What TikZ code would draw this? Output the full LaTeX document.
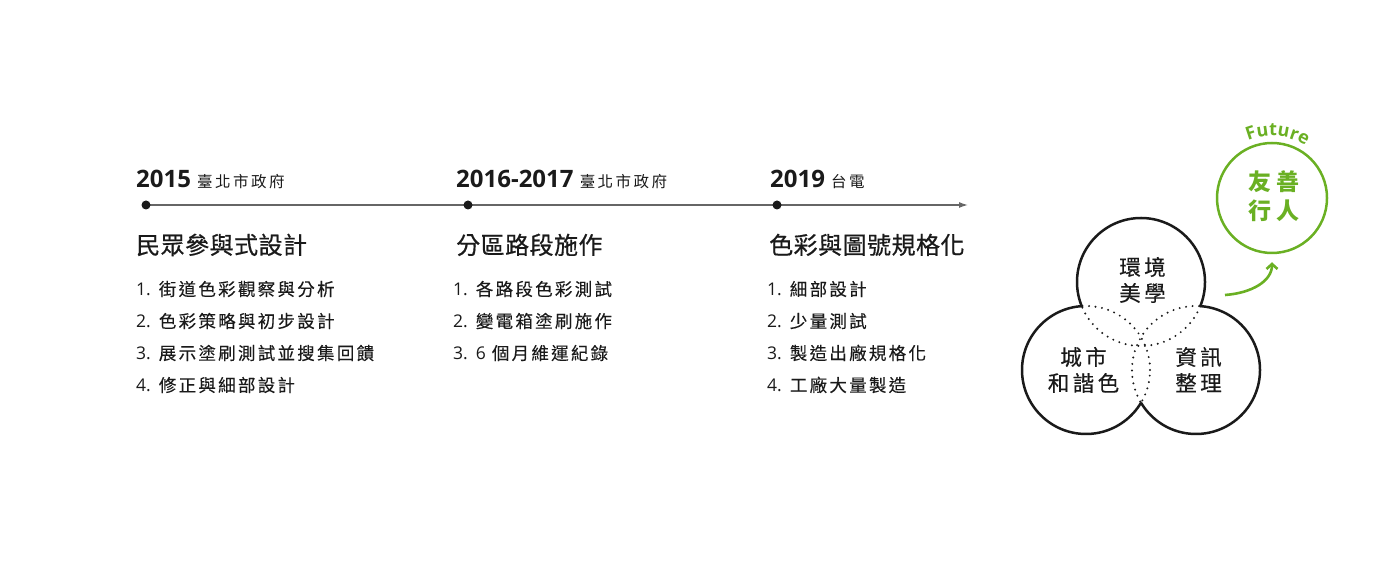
\documentclass[tikz,border=0pt]{standalone}
\usepackage{fontspec}
\setmainfont{Noto Sans CJK TC}
\newfontfamily\lat{Open Sans}
\newfontfamily\cjkitem[LetterSpace=13,FakeBold=0.2]{Noto Sans CJK TC}
\newfontfamily\cjkorg[LetterSpace=16]{Noto Sans CJK TC}
\newfontfamily\cjkhead[LetterSpace=2,FakeBold=0.6]{Noto Sans CJK TC}
\newfontfamily\cjkcirc[LetterSpace=16,FakeBold=0.4]{Noto Sans CJK TC}
\newfontfamily\cjkgreen[LetterSpace=22]{Noto Sans CJK TC}
\usetikzlibrary{arrows.meta,decorations.text}
\definecolor{ink}{HTML}{1A1A1A}
\definecolor{fgreen}{HTML}{6AB023}
\definecolor{tlinec}{HTML}{666666}
\newcommand{\itemnum}[1]{{\lat #1}\hspace{8pt}}
\begin{document}
\begin{tikzpicture}[x=1pt,y=1pt,
  tlinestyle/.style={draw=tlinec,line width=1.3pt,-{Latex[length=9pt,width=6pt]}},
  tdot/.style={circle,fill=ink,inner sep=0pt,minimum size=9pt},
  yearlbl/.style={anchor=base west,inner sep=0pt,text=ink,font=\lat\bfseries\fontsize{24}{24}\selectfont},
  headlbl/.style={anchor=base west,inner sep=0pt,text=ink,font=\cjkhead\fontsize{24}{24}\selectfont},
  itemlbl/.style={anchor=base west,inner sep=0pt,text=ink,font=\cjkitem\fontsize{17.5}{17.5}\selectfont},
  vring/.style={draw=ink,line width=2.5pt},
  vdots/.style={draw=ink,line width=2.2pt,line cap=round,dash pattern=on 0pt off 6.5pt},
  circlbl/.style={anchor=base,inner sep=0pt,text=ink,font=\cjkcirc\fontsize{21.5}{21.5}\selectfont},
  greenlbl/.style={anchor=base,inner sep=0pt,text=fgreen,font=\cjkgreen\bfseries\fontsize{23}{23}\selectfont},
  gring/.style={circle,draw=fgreen,line width=2.5pt,minimum size=110pt,inner sep=0pt},
  garrow/.style={draw=fgreen,line width=2.6pt,-{Straight Barb[length=5pt,width=11pt]},shorten >=8pt}
]
\useasboundingbox (0,0) rectangle (1400,567);

% ---------- timeline ----------
\coordinate (t0) at (146,362);
\coordinate (t1) at (468,362);
\coordinate (t2) at (777,362);
\coordinate (tend) at (968,362);
\draw[tlinestyle] (t0) -- (tend);
\node[tdot] (d1) at (t0) {};
\node[tdot] (d2) at (t1) {};
\node[tdot] (d3) at (t2) {};

\node[yearlbl] (y1) at (136,379.5) {2015 {\cjkorg\mdseries\fontsize{15.5}{15.5}\selectfont 臺北市政府}};
\node[yearlbl] (y2) at (456,379.5) {2016-2017 {\cjkorg\mdseries\fontsize{15.5}{15.5}\selectfont 臺北市政府}};
\node[yearlbl] (y3) at (770,379.5) {2019 {\cjkorg\mdseries\fontsize{15.5}{15.5}\selectfont 台電}};

\node[headlbl] (h1) at (136,313) {民眾參與式設計};
\node[headlbl] (h2) at (456,313) {分區路段施作};
\node[headlbl] (h3) at (769,313) {色彩與圖號規格化};

\node[itemlbl] (a1) at (136,271.3) {\itemnum{1.}街道色彩觀察與分析};
\node[itemlbl] (a2) at (136,239.3) {\itemnum{2.}色彩策略與初步設計};
\node[itemlbl] (a3) at (136,207.3) {\itemnum{3.}展示塗刷測試並搜集回饋};
\node[itemlbl] (a4) at (136,175.3) {\itemnum{4.}修正與細部設計};

\node[itemlbl] (b1) at (453,271.3) {\itemnum{1.}各路段色彩測試};
\node[itemlbl] (b2) at (453,239.3) {\itemnum{2.}變電箱塗刷施作};
\node[itemlbl] (b3) at (453,207.3) {\itemnum{3.}{\lat 6}\hspace{6pt}個月維運紀錄};

\node[itemlbl] (c1) at (767,271.3) {\itemnum{1.}細部設計};
\node[itemlbl] (c2) at (767,239.3) {\itemnum{2.}少量測試};
\node[itemlbl] (c3) at (767,207.3) {\itemnum{3.}製造出廠規格化};
\node[itemlbl] (c4) at (767,175.3) {\itemnum{4.}工廠大量製造};

% ---------- venn ----------
\coordinate (T) at (1141,285);
\coordinate (L) at (1086,197);
\coordinate (R) at (1196,197);
\begin{scope}[even odd rule]
  \clip (0,0) rectangle (1400,567) (L) circle[radius=64];
  \clip (0,0) rectangle (1400,567) (R) circle[radius=64];
  \draw[vring] (T) circle[radius=64];
\end{scope}
\begin{scope}[even odd rule]
  \clip (0,0) rectangle (1400,567) (T) circle[radius=64];
  \clip (0,0) rectangle (1400,567) (R) circle[radius=64];
  \draw[vring] (L) circle[radius=64];
\end{scope}
\begin{scope}[even odd rule]
  \clip (0,0) rectangle (1400,567) (T) circle[radius=64];
  \clip (0,0) rectangle (1400,567) (L) circle[radius=64];
  \draw[vring] (R) circle[radius=64];
\end{scope}
\begin{scope}
  \clip (L) circle[radius=64] (R) circle[radius=64];
  \draw[vdots] (T) circle[radius=64];
\end{scope}
\begin{scope}
  \clip (T) circle[radius=64] (R) circle[radius=64];
  \draw[vdots] (L) circle[radius=64];
\end{scope}
\begin{scope}
  \clip (T) circle[radius=64] (L) circle[radius=64];
  \draw[vdots] (R) circle[radius=64];
\end{scope}

\node[circlbl] (tt1) at (1142.5,291.8) {環境};
\node[circlbl] (tt2) at (1142.5,265.8) {美學};
\node[circlbl] (lt1) at (1083.5,201.8) {城市};
\node[circlbl] (lt2) at (1083.5,175.8) {和諧色};
\node[circlbl] (rt1) at (1198.5,201.8) {資訊};
\node[circlbl] (rt2) at (1198.5,175.8) {整理};

% ---------- future ----------
\node[gring] (g) at (1272,369) {};
\node[greenlbl] (gt1) at (1274,376.3) {友善};
\node[greenlbl] (gt2) at (1274,347.3) {行人};
\path[decorate,decoration={text along path,text align=center,text color=fgreen,
  text={|\lat\bfseries\fontsize{18}{18}\selectfont|Future}}]
  ([shift={(134:62)}]g.center) arc[start angle=134,end angle=36,radius=62];
\coordinate (ast) at (1225,272);
\draw[garrow] (ast) .. controls (1252,274) and (1272,286) .. (g.south);
\end{tikzpicture}
\end{document}
